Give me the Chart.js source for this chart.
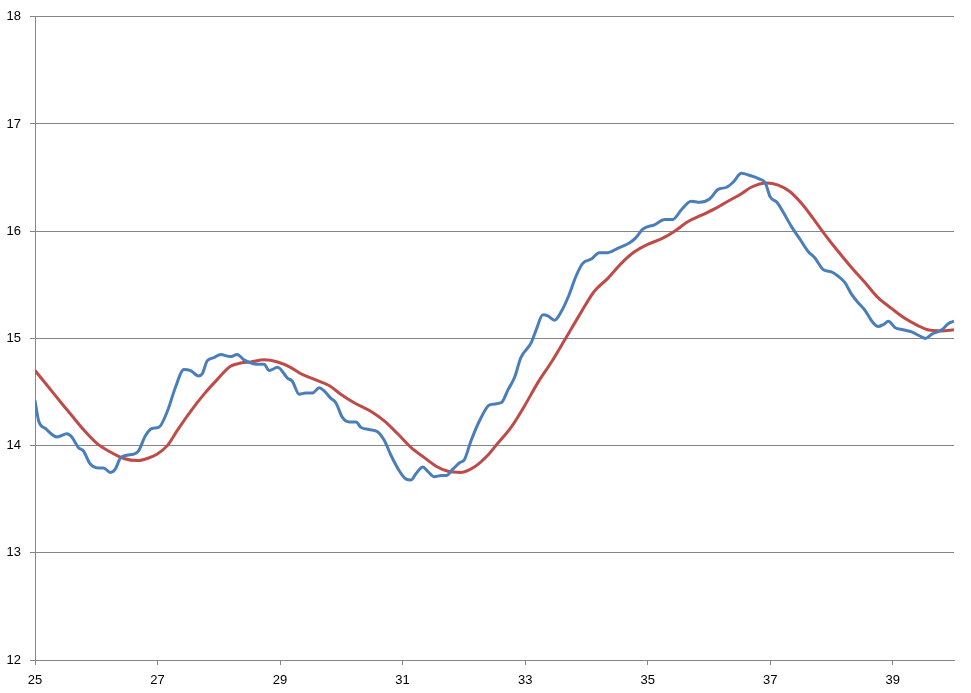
<!DOCTYPE html>
<html>
<head>
<meta charset="utf-8">
<script src="https://cdn.jsdelivr.net/npm/chart.js@4"></script>
<style>
    html, body { margin: 0; padding: 0; background: #fff; }
    #wrap { width: 971px; height: 693px; }
</style>
</head>
<body>
<div id="wrap"><canvas id="chart"></canvas></div>
<script>
const blueX = [25.00, 25.06, 25.17, 25.36, 25.52, 25.60, 25.71, 25.79, 25.90, 26.04, 26.12, 26.23, 26.31, 26.39, 26.50, 26.61, 26.69, 26.80, 26.91, 27.02,
    27.16, 27.29, 27.43, 27.54, 27.67, 27.73, 27.81, 27.92, 28.03, 28.19, 28.30, 28.41, 28.63, 28.74, 28.82, 28.96, 29.12, 29.20, 29.31, 29.42,
    29.53, 29.64, 29.72, 29.83, 29.91, 30.02, 30.13, 30.24, 30.32, 30.45, 30.59, 30.70, 30.81, 30.94, 31.05, 31.14, 31.22, 31.33, 31.41, 31.52,
    31.63, 31.71, 31.82, 31.93, 32.01, 32.12, 32.28, 32.42, 32.61, 32.72, 32.83, 32.93, 33.10, 33.18, 33.29, 33.37, 33.48, 33.59, 33.72,
    33.83, 33.94, 34.08, 34.21, 34.35, 34.51, 34.70, 34.81, 34.92, 35.11, 35.28, 35.41, 35.55, 35.71, 35.85, 36.01, 36.15, 36.29, 36.40, 36.53,
    36.67, 36.81, 36.92, 37.00, 37.11, 37.22, 37.35, 37.48, 37.62, 37.73, 37.87, 38.00, 38.11, 38.22, 38.33, 38.44, 38.55, 38.66, 38.76, 38.85,
    38.93, 39.04, 39.17, 39.31, 39.45, 39.53, 39.64, 39.80, 39.91, 40.00];
const blueY = [14.42, 14.23, 14.16, 14.08, 14.11, 14.08, 13.98, 13.95, 13.83, 13.79, 13.79, 13.75, 13.78, 13.88, 13.91, 13.92, 13.95, 14.09, 14.16, 14.17,
    14.32, 14.54, 14.71, 14.70, 14.65, 14.67, 14.79, 14.82, 14.85, 14.83, 14.85, 14.80, 14.76, 14.76, 14.70, 14.73, 14.63, 14.60, 14.48, 14.49,
    14.49, 14.54, 14.51, 14.44, 14.40, 14.26, 14.22, 14.22, 14.17, 14.15, 14.13, 14.05, 13.91, 13.77, 13.69, 13.68, 13.74, 13.80, 13.76, 13.71,
    13.72, 13.72, 13.78, 13.84, 13.87, 14.05, 14.26, 14.38, 14.40, 14.52, 14.64, 14.82, 14.96, 15.08, 15.22, 15.21, 15.17, 15.25, 15.41,
    15.58, 15.70, 15.74, 15.80, 15.80, 15.84, 15.89, 15.94, 16.02, 16.06, 16.11, 16.11, 16.20, 16.28, 16.27, 16.30, 16.39, 16.41, 16.46, 16.54,
    16.52, 16.49, 16.45, 16.32, 16.27, 16.17, 16.04, 15.93, 15.81, 15.75, 15.64, 15.62, 15.58, 15.52, 15.41, 15.33, 15.26, 15.16, 15.11, 15.13,
    15.16, 15.10, 15.08, 15.06, 15.02, 15.00, 15.04, 15.08, 15.14, 15.16];

const redX = [25.00, 25.20, 25.47, 25.63, 25.79, 26.01, 26.23, 26.45, 26.67, 26.83, 26.99, 27.16, 27.32, 27.54, 27.76, 27.98, 28.19, 28.36, 28.52, 28.74,
    28.96, 29.17, 29.34, 29.55, 29.80, 29.99, 30.21, 30.48, 30.70, 30.92, 31.14, 31.35, 31.57, 31.74, 31.95, 32.17, 32.39, 32.55, 32.77, 32.99,
    33.21, 33.43, 33.64, 33.92, 34.13, 34.35, 34.57, 34.79, 35.01, 35.23, 35.44, 35.66, 35.88, 36.10, 36.31, 36.53, 36.69, 36.94, 37.13, 37.32,
    37.51, 37.70, 37.89, 38.11, 38.33, 38.55, 38.76, 38.98, 39.19, 39.41, 39.57, 39.80, 40.00];
const redY = [14.70, 14.56, 14.37, 14.26, 14.15, 14.02, 13.94, 13.88, 13.86, 13.88, 13.92, 14.00, 14.14, 14.32, 14.48, 14.62, 14.74, 14.77, 14.78, 14.80,
    14.78, 14.73, 14.67, 14.62, 14.56, 14.48, 14.40, 14.32, 14.23, 14.11, 13.98, 13.89, 13.80, 13.76, 13.75, 13.80, 13.91, 14.02, 14.17, 14.37,
    14.59, 14.78, 14.98, 15.25, 15.44, 15.56, 15.70, 15.81, 15.88, 15.93, 16.00, 16.09, 16.15, 16.21, 16.28, 16.35, 16.41, 16.45, 16.43, 16.37,
    16.26, 16.12, 15.97, 15.81, 15.66, 15.52, 15.38, 15.28, 15.19, 15.12, 15.08, 15.07, 15.08];

const xTicks = [25, 27, 29, 31, 33, 35, 37, 39];
const yTicks = [12, 13, 14, 15, 16, 17, 18];

const toPoints = (xs, ys) => xs.map((x, i) => ({ x: x, y: ys[i] }));

const axisGrey = '#868686';
const tickFont = { family: '"Liberation Sans", Arial, sans-serif', size: 13 };

new Chart(document.getElementById('chart'), {
    type: 'line',
    data: {
        datasets: [
            {
                label: 'Series 1',
                data: toPoints(blueX, blueY),
                borderColor: '#4a7ebb',
                borderWidth: 3,
                pointRadius: 0,
                cubicInterpolationMode: 'monotone',
                fill: false
            },
            {
                label: 'Series 2',
                data: toPoints(redX, redY),
                borderColor: '#be4b48',
                borderWidth: 3,
                pointRadius: 0,
                cubicInterpolationMode: 'monotone',
                fill: false
            }
        ]
    },
    options: {
        responsive: true,
        maintainAspectRatio: false,
        animation: false,
        layout: { padding: { top: 14, right: 17, left: 0, bottom: 0 } },
        plugins: {
            legend: { display: false },
            tooltip: { enabled: false }
        },
        scales: {
            x: {
                type: 'linear',
                min: 25,
                max: 40,
                afterBuildTicks: (scale) => {
                    scale.ticks = xTicks.map(v => ({ value: v }));
                },
                afterFit: (scale) => { scale.height = 33; },
                grid: {
                    drawOnChartArea: false,
                    drawTicks: true,
                    tickLength: 5,
                    color: axisGrey
                },
                border: { color: axisGrey, width: 1 },
                ticks: {
                    color: '#000',
                    font: tickFont,
                    padding: 8,
                    maxRotation: 0,
                    autoSkip: false
                }
            },
            y: {
                min: 12,
                max: 18,
                afterBuildTicks: (scale) => {
                    scale.ticks = yTicks.map(v => ({ value: v }));
                },
                afterFit: (scale) => { scale.width = 35; },
                grid: {
                    color: axisGrey,
                    tickLength: 5,
                    lineWidth: 1
                },
                border: { color: axisGrey, width: 1 },
                ticks: {
                    color: '#000',
                    font: tickFont,
                    padding: 9
                }
            }
        }
    }
});
</script>
</body>
</html>
